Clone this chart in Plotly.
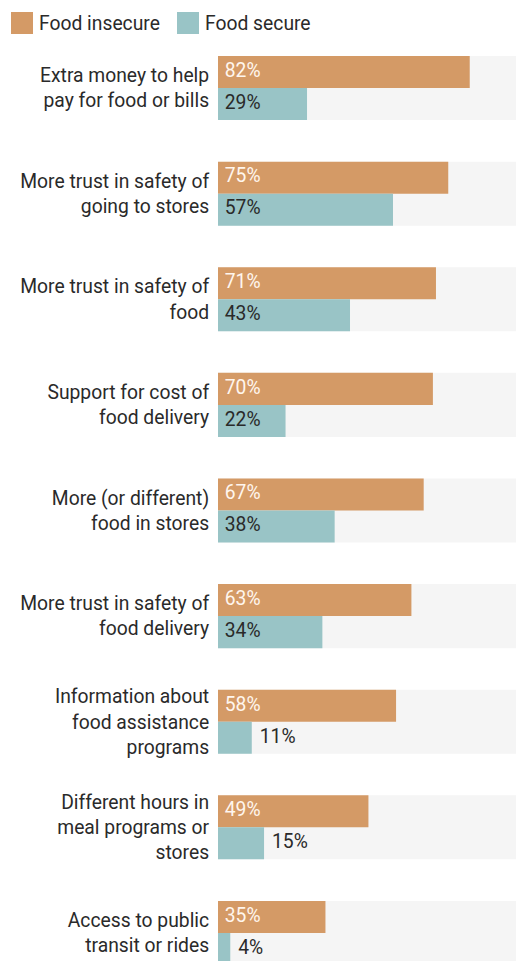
import plotly.graph_objects as go

categories = [
    "Extra money to help<br>pay for food or bills",
    "More trust in safety of<br>going to stores",
    "More trust in safety of<br>food",
    "Support for cost of<br>food delivery",
    "More (or different)<br>food in stores",
    "More trust in safety of<br>food delivery",
    "Information about<br>food assistance<br>programs",
    "Different hours in<br>meal programs or<br>stores",
    "Access to public<br>transit or rides",
]
food_insecure = [82, 75, 71, 70, 67, 63, 58, 49, 35]
food_secure = [29, 57, 43, 22, 38, 34, 11, 15, 4]
series_names = ["Food insecure", "Food secure"]

ORANGE = "#D49A66"
TEAL = "#99C4C6"
GREY = "#F5F5F5"
DARK = "#2A2A2A"
FONT = "Roboto"
FS = 19.3

W, H = 516, 961
ML, MR, MT, MB = 218, 0, 45, 0
PW, PH = W - ML - MR, H - MT - MB

def px_x(p):
    return (p - ML) / PW

def px_y(p):
    return (H - MB - p) / PH

idx = list(range(len(categories)))
bh = 0.303  # bar thickness in category units
pad_in = 2.2   # label padding in % units
pad_out = 2.6
thresh = 20

fig = go.Figure()
fig.add_trace(go.Bar(y=idx, x=[100] * len(idx), orientation="h", width=2 * bh, offset=-bh,
                     marker=dict(color=GREY, line=dict(width=0)), hoverinfo="skip", showlegend=False))
fig.add_trace(go.Bar(y=idx, x=food_insecure, orientation="h", width=bh, offset=-bh,
                     marker=dict(color=ORANGE, line=dict(width=0)), name=series_names[0], showlegend=False))
fig.add_trace(go.Bar(y=idx, x=food_secure, orientation="h", width=bh, offset=0,
                     marker=dict(color=TEAL, line=dict(width=0)), name=series_names[1], showlegend=False))

# value labels
fig.add_trace(go.Scatter(
    y=[i - bh / 2 for i in idx], x=[pad_in for _ in idx], mode="text",
    text=[f"{v}%" for v in food_insecure], textposition="middle right",
    textfont=dict(family=FONT, size=FS, color="#FFF6EE"), hoverinfo="skip", showlegend=False))
fig.add_trace(go.Scatter(
    y=[i + bh / 2 for i in idx],
    x=[(pad_in if v >= thresh else v + pad_out) for v in food_secure], mode="text",
    text=[f"{v}%" for v in food_secure], textposition="middle right",
    textfont=dict(family=FONT, size=FS, color=DARK), hoverinfo="skip", showlegend=False))

# legend drawn manually
shapes = []
annotations = []
for (x0, x1, tx), name, col in zip([(11, 33, 37), (177, 199, 203)], series_names, [ORANGE, TEAL]):
    shapes.append(dict(type="rect", xref="paper", yref="paper", x0=px_x(x0), x1=px_x(x1),
                       y0=px_y(34), y1=px_y(12), fillcolor=col, line=dict(width=0)))
    annotations.append(dict(xref="paper", yref="paper", x=px_x(tx), y=px_y(23), text=name,
                            showarrow=False, xanchor="left", yanchor="middle",
                            font=dict(family=FONT, size=FS, color=DARK)))

n = len(categories)
fig.update_layout(
    width=W, height=H,
    margin=dict(l=ML, r=MR, t=MT, b=MB, pad=0),
    barmode="overlay",
    plot_bgcolor="white", paper_bgcolor="white",
    shapes=shapes, annotations=annotations,
    showlegend=False,
    xaxis=dict(range=[0, 100 * PW / 307], showgrid=False, zeroline=False, showticklabels=False,
               fixedrange=True),
    yaxis=dict(range=[(n - 1) + (961 - 933) / 105.6, -(88 - MT) / 105.6], tickmode="array",
               tickvals=idx, ticktext=categories, showgrid=False, zeroline=False,
               ticks="outside", ticklen=4, tickcolor="rgba(0,0,0,0)",
               tickfont=dict(family=FONT, size=FS, color=DARK), fixedrange=True),
    font=dict(family=FONT, color=DARK),
)

fig.write_html("out.html", config={"displayModeBar": False},
               post_script="document.body.style.margin='0px';")
